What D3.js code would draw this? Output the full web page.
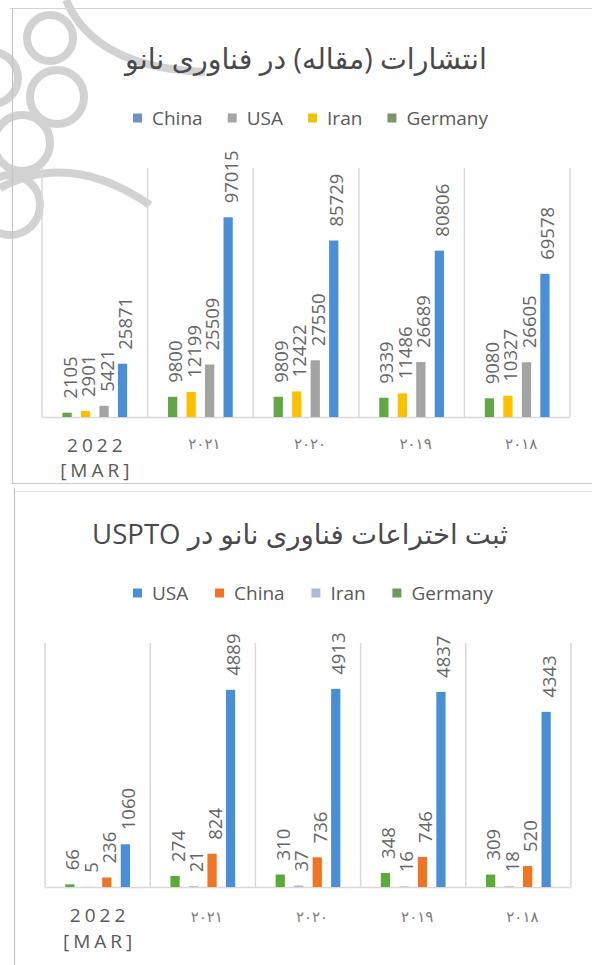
<!DOCTYPE html>
<html><head><meta charset="utf-8">
<script src="https://cdn.jsdelivr.net/npm/d3@7"></script>
<style>body{margin:0;background:#fff;overflow:hidden} svg{display:block}</style>
</head><body>
<svg id="c" width="592" height="965"></svg>
<script>
// ---------- data ----------
const categories = ["2022 [MAR]", "۲۰۲۱", "۲۰۲۰", "۲۰۱۹", "۲۰۱۸"];

const title1 = "انتشارات (مقاله) در فناوری نانو";
const series1 = ["China", "USA", "Iran", "Germany"];
const china1   = [25871, 97015, 85729, 80806, 69578];
const usa1     = [5421, 25509, 27550, 26689, 26605];
const iran1    = [2901, 12199, 12422, 11486, 10327];
const germany1 = [2105, 9800, 9809, 9339, 9080];

const title2 = "ثبت اختراعات فناوری نانو در USPTO";
const series2 = ["USA", "China", "Iran", "Germany"];
const usa2     = [1060, 4889, 4913, 4837, 4343];
const china2   = [236, 824, 736, 746, 520];
const iran2    = [5, 21, 37, 16, 18];
const germany2 = [66, 274, 310, 348, 309];

// ---------- drawing ----------
const svg = d3.select("#c");

// faint decorative watermark (background)
const wm = svg.append("g").attr("fill", "none").attr("stroke", "#d2d2d2").attr("stroke-width", 8);
[[50,38,23],[57,97,27],[22,143,28],[-8,78,26],[10,205,30]].forEach(([cx,cy,r]) =>
  wm.append("circle").attr("cx", cx).attr("cy", cy).attr("r", r));
wm.append("path").attr("d", "M66,0 Q95,68 205,72");
wm.append("path").attr("d", "M0,188 Q70,150 150,205");

// frames
const frame = svg.append("g").attr("stroke-width", 1.2).attr("fill", "none");
frame.append("line").attr("x1", 10).attr("x2", 592).attr("y1", 8.5).attr("y2", 8.5).attr("stroke", "#d4d4d4");
frame.append("line").attr("x1", 12.5).attr("x2", 12.5).attr("y1", 8).attr("y2", 484).attr("stroke", "#c4c4c4");
frame.append("line").attr("x1", 12).attr("x2", 592).attr("y1", 483.5).attr("y2", 483.5).attr("stroke", "#c8c8c8");
frame.append("line").attr("x1", 14).attr("x2", 592).attr("y1", 491.5).attr("y2", 491.5).attr("stroke", "#e4e4e4");
frame.append("line").attr("x1", 14.5).attr("x2", 14.5).attr("y1", 488).attr("y2", 965).attr("stroke", "#c4c4c4");

function fitText(sel, target) {
  const w = sel.node().getComputedTextLength();
  const fs = parseFloat(sel.attr("font-size"));
  sel.attr("font-size", fs * target / w);
}

function drawChart(cfg) {
  const g = svg.append("g");
  // title
  const t = g.append("text")
    .attr("x", cfg.titleX).attr("y", cfg.titleY)
    .attr("text-anchor", "middle").attr("dominant-baseline", "central")
    .attr("direction", "rtl").style("direction", "rtl")
    .attr("font-family", "'Open Sans', 'DejaVu Sans', sans-serif")
    .attr("font-size", 20).attr("fill", "#4a4a4a").text(cfg.title);
  fitText(t, cfg.titleW);

  // legend
  const lg = g.append("g").attr("font-family", "'Open Sans', sans-serif").attr("font-size", 19).attr("fill", "#595959");
  const items = cfg.series.map(s => {
    const it = lg.append("g");
    it.append("rect").attr("width", 9).attr("height", 9).attr("y", -4.5).attr("fill", cfg.legendColors[s]);
    const tx = it.append("text").attr("x", 19).attr("dominant-baseline", "central").text(s);
    return {g: it, w: 19 + tx.node().getComputedTextLength()};
  });
  const total = d3.sum(items, d => d.w);
  const gap = (cfg.legendX1 - cfg.legendX0 - total) / (items.length - 1);
  let cx = cfg.legendX0;
  items.forEach(d => { d.g.attr("transform", `translate(${cx},${cfg.legendY})`); cx += d.w + gap; });

  // scales
  const x0 = d3.scaleBand().domain(categories).range([cfg.plotX0, cfg.plotX1]).padding(0);
  const bw = x0.bandwidth();
  const order = cfg.series.slice().reverse(); // drawn left to right: Germany ... first
  const x1 = d3.scaleBand().domain(order)
    .range([(bw - 74) / 2, (bw + 74) / 2]).paddingInner(0.5).paddingOuter(0.25);
  const y = d3.scaleLinear().domain([0, cfg.yMax]).range([cfg.yBase, cfg.yTop]);

  // grid lines (category separators)
  const gridX = categories.map(c => x0(c)).concat([cfg.plotX1]);
  g.append("g").selectAll("line").data(gridX).join("line")
    .attr("x1", d => d).attr("x2", d => d)
    .attr("y1", cfg.gridTop).attr("y2", cfg.yBase)
    .attr("stroke", "#d9d9d9").attr("stroke-width", 1.5);
  // baseline
  g.append("line").attr("x1", cfg.plotX0).attr("x2", cfg.plotX1)
    .attr("y1", cfg.yBase + 0.5).attr("y2", cfg.yBase + 0.5)
    .attr("stroke", "#d9d9d9").attr("stroke-width", 1.5);

  // bars
  const rows = [];
  categories.forEach((c, i) => order.forEach(s => rows.push({c, s, v: cfg.values[s][i]})));
  g.append("g").selectAll("rect").data(rows).join("rect")
    .attr("x", d => x0(d.c) + x1(d.s))
    .attr("width", x1.bandwidth())
    .attr("y", d => y(d.v))
    .attr("height", d => cfg.yBase - y(d.v))
    .attr("fill", d => cfg.colors[d.s]);

  // value labels
  g.append("g").selectAll("text").data(rows).join("text")
    .attr("transform", d => `translate(${x0(d.c) + x1(d.s) + x1.bandwidth() / 2 + 2},${y(d.v) - cfg.labelGap}) rotate(-90)`)
    .attr("dominant-baseline", "central")
    .attr("font-family", "'Open Sans', sans-serif").attr("font-size", 18.5)
    .attr("fill", "#666666").text(d => d.v);

  // category labels
  const cl = g.append("g").attr("text-anchor", "middle");
  categories.forEach(c => {
    const cxm = x0(c) + bw / 2;
    if (c.startsWith("2022")) {
      const parts = c.split(" ");
      parts.forEach((p, k) => {
        cl.append("text").attr("x", cxm + 2).attr("y", (k === 0 ? cfg.catY1 : cfg.catY2))
          .attr("dominant-baseline", "central")
          .attr("font-family", "'Open Sans', sans-serif").attr("font-size", 19)
          .attr("letter-spacing", "4px").attr("fill", "#595959").text(p);
      });
    } else {
      cl.append("text").attr("x", cxm + 4).attr("y", cfg.catYp)
        .attr("dominant-baseline", "central")
        .attr("font-family", "'DejaVu Sans', sans-serif").attr("font-size", 15)
        .attr("letter-spacing", "5px").attr("fill", "#7a7a7a").text(c);
    }
  });
}

drawChart({
  title: title1, titleX: 306, titleY: 58, titleW: 362,
  series: series1,
  values: {China: china1, USA: usa1, Iran: iran1, Germany: germany1},
  colors: {China: "#4a8fd6", USA: "#a3a3a3", Iran: "#fbc000", Germany: "#63a645"},
  legendColors: {China: "#6f93c6", USA: "#a6a6a6", Iran: "#eec400", Germany: "#7c956c"},
  legendX0: 133, legendX1: 488, legendY: 118,
  plotX0: 42, plotX1: 570, yBase: 417, yTop: 170, gridTop: 168, yMax: 120000,
  labelGap: 14, catY1: 445, catY2: 470, catYp: 444
});

drawChart({
  title: title2, titleX: 300, titleY: 533, titleW: 416,
  series: series2,
  values: {USA: usa2, China: china2, Iran: iran2, Germany: germany2},
  colors: {USA: "#4a8fd6", China: "#f07424", Iran: "#a9bdd3", Germany: "#5aab3a"},
  legendColors: {USA: "#4a8fd6", China: "#f07424", Iran: "#a9bdd3", Germany: "#6d9a5c"},
  legendX0: 133, legendX1: 493, legendY: 593,
  plotX0: 45, plotX1: 571, yBase: 887, yTop: 645, gridTop: 643, yMax: 6000,
  labelGap: 14, catY1: 915, catY2: 941, catYp: 917
});
</script>
</body></html>
